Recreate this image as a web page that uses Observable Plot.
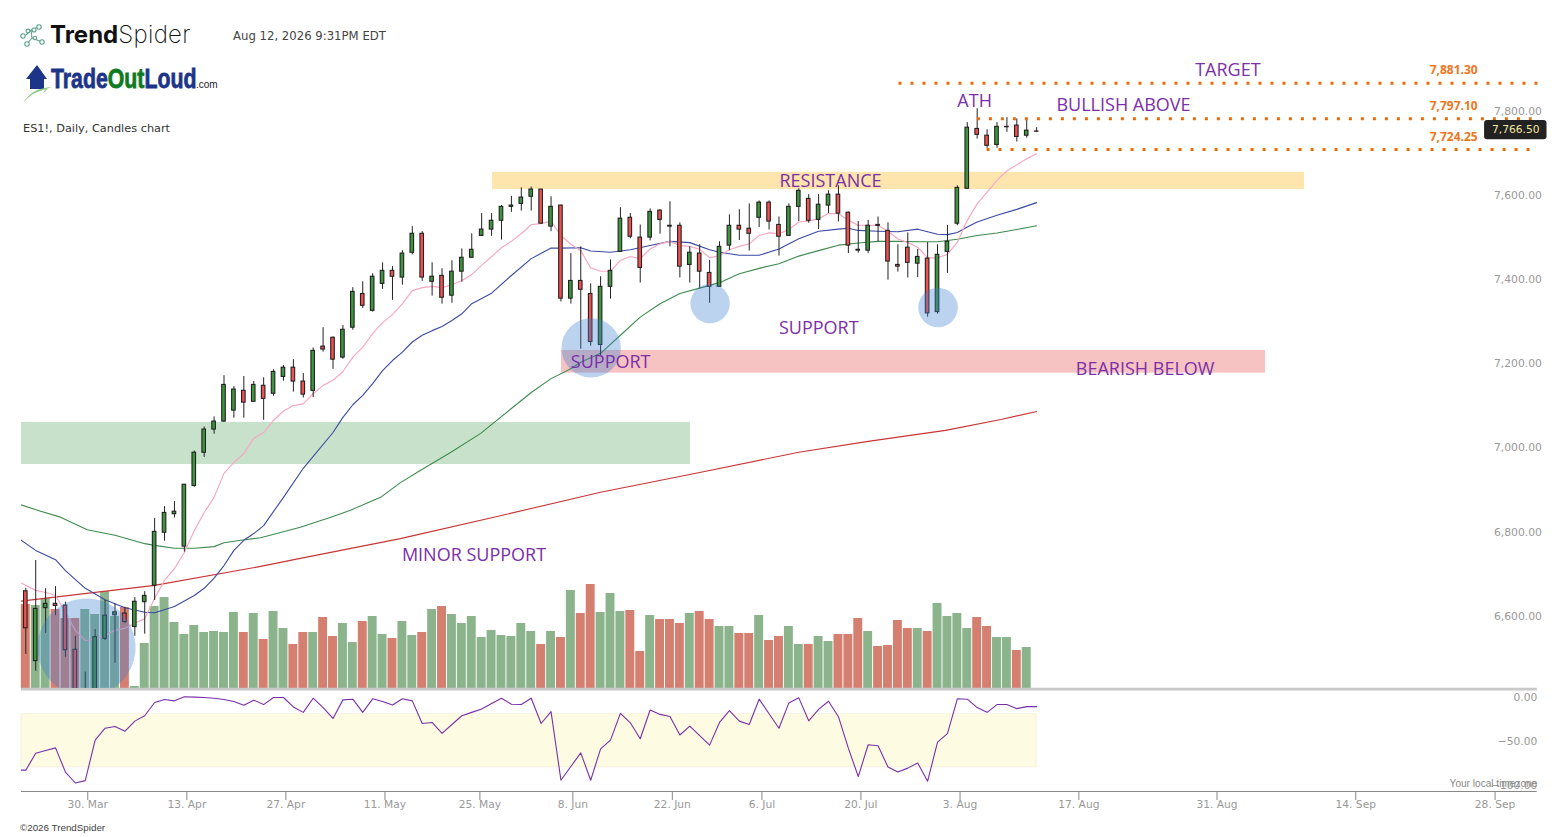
<!DOCTYPE html>
<html>
<head>
<meta charset="utf-8">
<script src="https://cdn.jsdelivr.net/npm/d3@7"></script>
<script src="https://cdn.jsdelivr.net/npm/@observablehq/plot@0.6"></script>
<style>
html,body{margin:0;padding:0;background:#fff;overflow:hidden;width:1567px;height:837px}
#stage{position:relative;width:1567px;height:837px}
#stage svg.plot-layer{position:absolute;left:0;top:0}
.hdr{position:absolute;white-space:nowrap}
</style>
</head>
<body>
<div id="stage">
  <svg style="position:absolute;left:19px;top:24px" width="28" height="24" viewBox="0 0 28 24" fill="none" stroke="#5aa08c" stroke-width="1.1">
    <path d="M7 11 L12 6 M12 6 L13 14 M13 14 L8 20 M13 14 L23 18 M12 6 L19 3"/>
    <circle cx="4" cy="12" r="2.2" fill="#fff"/><circle cx="8" cy="20" r="2.2" fill="#fff"/><circle cx="9" cy="7" r="1.9" fill="#fff"/>
    <circle cx="15" cy="6" r="2" fill="#fff"/><circle cx="20" cy="3" r="2.2" fill="#fff"/><circle cx="16" cy="14" r="1.7" fill="#fff"/><circle cx="23" cy="18" r="2.2" fill="#fff"/>
  </svg>
  <div class="hdr" style="left:50px;top:20px;font:24px/30px Inter,sans-serif;color:#111"><b style="font-weight:700">Trend</b><span style="font-weight:200;letter-spacing:.3px">Spider</span></div>
  <div class="hdr" style="left:233px;top:28px;font:11.7px/16px 'DejaVu Sans',sans-serif;color:#444">Aug 12, 2026 9:31PM EDT</div>
  <svg style="position:absolute;left:22px;top:64px" width="32" height="40" viewBox="0 0 32 40">
    <path d="M15 1 L25 15 L22 15 L22 25 L8 25 L8 15 L4 15 Z" fill="#1d3588"/>
    <path d="M1 39 C8 28 16 24 30 23 L24 25 L20 30 L26 25 C14 27 8 31 1 39Z" fill="#8cc97e"/>
  </svg>
  <div class="hdr" style="left:51px;top:63px;font:bold 28px/32px 'Liberation Sans',sans-serif;color:#1d3588;-webkit-text-stroke:.8px currentColor;transform:scaleX(.76);transform-origin:left center">Trade<span style="color:#0f7a1f">Out</span>Loud</div>
  <div class="hdr" style="left:196px;top:78px;font:10px/14px 'Liberation Sans',sans-serif;color:#222">.com</div>
  <div class="hdr" style="left:23px;top:121px;font:11.3px/16px 'DejaVu Sans',sans-serif;color:#333">ES1!, Daily, Candles chart</div>
  <div class="hdr" style="left:20px;top:821px;font:9.8px/13px 'Liberation Sans',sans-serif;color:#444">©2026 TrendSpider</div>
</div>
<script>
// ---------- data (bars are trading-day positions) ----------
const opens = [6675,6509,6635,6645,6641,6536,6368,6427,6562,6618,
  6622,6590,6649,6688,6814,6858,6781,6925,7004,7059,
  7078,7104,7151,7125,7163,7144,7184,7206,7173,7151,
  7256,7277,7230,7301,7381,7341,7405,7436,7420,7479,
  7524,7410,7424,7377,7434,7467,7519,7534,7555,7588,
  7595,7612,7629,7541,7591,7370,7412,7381,7260,7398,
  7481,7562,7515,7515,7579,7543,7543,7450,7477,7431,
  7398,7496,7543,7536,7562,7598,7545,7519,7588,7607,
  7557,7591,7617,7574,7486,7484,7545,7531,7450,7491,
  7453,7465,7338,7481,7548,7631,7773,7757,7735,7777,
  7781,7757,7767];
const highs = [6682,6748,6681,6686,6649,6568,6483,6584,6653,6645,
  6637,6660,6674,6848,6876,6888,6928,7008,7065,7089,
  7187,7161,7185,7173,7182,7201,7211,7225,7192,7253,
  7301,7279,7306,7396,7410,7429,7455,7446,7484,7541,
  7529,7455,7441,7460,7488,7524,7572,7572,7591,7613,
  7633,7635,7629,7612,7592,7477,7493,7405,7422,7462,
  7586,7572,7545,7583,7581,7600,7550,7493,7498,7461,
  7505,7569,7581,7595,7602,7602,7564,7595,7631,7617,
  7617,7626,7638,7576,7553,7556,7564,7550,7498,7526,
  7487,7503,7498,7544,7638,7788,7821,7771,7788,7800,
  7797,7793,7776];
const lows = [6525,6485,6575,6617,6518,6416,6344,6416,6558,6504,
  6598,6568,6573,6653,6794,6849,6768,6922,6993,7048,
  7076,7086,7086,7124,7081,7138,7174,7148,7134,7135,
  7243,7202,7226,7295,7347,7338,7392,7366,7402,7474,
  7411,7376,7357,7359,7409,7466,7518,7518,7509,7575,
  7578,7578,7547,7529,7362,7357,7250,7257,7234,7369,
  7480,7512,7407,7507,7523,7493,7419,7407,7393,7359,
  7397,7484,7508,7483,7539,7533,7471,7518,7553,7549,
  7534,7572,7552,7477,7478,7477,7505,7414,7433,7419,
  7420,7326,7333,7430,7543,7630,7749,7727,7727,7765,
  7742,7751,7765];
const closes = [6587,6633,6645,6640,6535,6427,6416,6566,6617,6625,
  6602,6650,6664,6816,6861,6864,6928,7004,7059,7078,
  7165,7154,7123,7165,7132,7196,7206,7173,7142,7246,
  7249,7225,7296,7386,7353,7422,7436,7422,7477,7524,
  7420,7422,7372,7434,7467,7486,7534,7555,7588,7591,
  7610,7629,7548,7588,7370,7412,7391,7267,7398,7436,
  7560,7517,7443,7576,7557,7541,7446,7479,7434,7398,
  7493,7543,7534,7524,7598,7553,7517,7588,7626,7555,
  7593,7617,7572,7496,7484,7543,7543,7458,7446,7455,
  7469,7335,7474,7505,7633,7776,7759,7733,7778,7778,
  7754,7769,7766.5];
const volumes = [84,83,90,79,70,70,79,74,97,72,
  81,2,45,82,91,66,54,63,56,57,
  56,76,56,75,49,77,60,44,56,56,
  71,52,65,46,67,72,54,50,67,53,
  56,79,82,74,65,72,51,58,53,52,
  65,57,44,57,51,98,75,104,76,95,
  77,78,37,73,69,69,65,75,77,69,
  62,62,55,55,73,48,52,62,44,44,
  52,47,54,54,70,57,42,43,68,60,
  60,57,85,72,75,60,71,62,51,51,
  38,41];
// fast average: one value per bar, first value belongs to the bar before the first candle
const pinkValues = [6701,6689,6677,6672,6665,6625,6582,6558,6561,6570,6582,
  6587,6599,6610,6658,6701,6729,6767,6819,6862,6898,
  6955,6981,7002,7038,7052,7081,7103,7116,7120,7144,
  7164,7176,7197,7231,7255,7287,7313,7332,7358,7389,
  7396,7399,7396,7403,7413,7427,7449,7470,7491,7506,
  7524,7546,7548,7554,7520,7499,7484,7443,7435,7435,
  7461,7470,7465,7488,7500,7506,7496,7494,7487,7467,
  7472,7486,7494,7500,7520,7526,7524,7534,7552,7554,
  7560,7572,7572,7556,7544,7544,7544,7530,7512,7503,
  7492,7467,7467,7475,7504,7556,7595,7623,7651,7673,
  7688,7702,7714];
const blueBars = [-1,1,3,4,6,8,10,12,13,15,17,18,19,20,21,22,23,24,26,28,31,32,33,34,35,36,37,38,39,40,41,42,43,44,45,47,49,51,53,54,56,57,59,61,63,65,67,69,70,72,74,76,78,80,82,83,84,86,88,90,92,93,94,95,96,98,100,102];
const blueValues = [6805,6772,6750,6724,6682,6655,6636,6625,6624,6639,6665,6682,6706,6736,6772,6796,6812,6831,6898,6967,7052,7088,7118,7140,7168,7199,7223,7243,7267,7283,7294,7304,7318,7334,7358,7383,7425,7465,7490,7490,7491,7483,7480,7486,7496,7506,7503,7486,7480,7473,7473,7488,7512,7530,7535,7537,7532,7530,7529,7535,7523,7522,7527,7540,7552,7568,7582,7598];
const greenBars = [-1,1.5,3.5,6.2,9,12,13,15,17,19,20,21.7,23.7,27.7,30.7,32.7,35.8,37.8,39.8,42.9,45.9,47.9,51,53,54.8,56,58,60,62,64,66,68,70,72,74.2,76,78,80,82,84,86,88,90,92,93,94,96,98,100,102];
const greenValues = [6884,6865,6851,6821,6808,6788,6784,6777,6777,6781,6790,6796,6802,6827,6850,6867,6898,6933,6962,7005,7050,7088,7147,7180,7201,7219,7240,7283,7326,7358,7382,7395,7408,7429,7443,7453,7471,7484,7497,7502,7506,7506,7505,7505,7508,7511,7520,7526,7534,7543];
const redBars = [-1,13,23.7,27.7,37.8,48,58,68,78,85,92.8,98.4,102];
const redValues = [6650,6689,6734,6753,6800,6855,6910,6957,7005,7031,7057,7083,7102];
// oscillator: one value per bar, first value belongs to the bar before the first candle
const oscValues = [-83,-83.1,-64,-60.9,-57.9,-85.3,-97.6,-94.9,-49.1,-35.7,-33.8,
  -39.2,-27.7,-21.6,-6.7,-3.3,-4.8,-0.2,-0.6,-1,-1.8,
  -3.3,-5.6,-9.8,-4,-9,-1,-1,-11.7,-17.8,-1.8,
  -12.4,-24.7,-3.7,-2.9,-17.8,-2.5,-5.6,-9.4,-2.5,-4.8,
  -30.4,-29.2,-41.5,-31.5,-21.6,-17.8,-14,-7.9,-1.8,-8.6,
  -9,-1.8,-30.4,-17,-94.5,-78.9,-63.6,-94.5,-59,-49.1,
  -18.9,-29.6,-47.6,-15.1,-20.1,-22.4,-43.4,-33.4,-44.1,-54.8,
  -29.2,-15.9,-27.7,-31.5,-2.9,-19.3,-35.7,-7.1,-1.4,-27.3,
  -14.4,-5.2,-22.7,-58.2,-90.3,-54.4,-55.6,-79.6,-85.3,-80.8,
  -75,-95.6,-51.4,-41.8,-2.5,-2.9,-12.4,-17.8,-9,-9,
  -13.6,-11.3,-11.3];
const xTickBars = [6.25,16.25,26.24,36.24,45.82,55.2,65.24,74.28,84.27,94.27,106.26,120.2,134.2,148.26];
const xTickLabels = ["30. Mar","13. Apr","27. Apr","11. May","25. May","8. Jun","22. Jun","6. Jul","20. Jul","3. Aug","17. Aug","31. Aug","14. Sep","28. Sep"];
const priceTicks = [7800,7600,7400,7200,7000,6800,6600];
const oscTicks = [0,-50,-100];
// zones: bar from, bar to, price low, price high
const zoneNames = ["resistance","bearish","green"];
const zoneFrom = [47.1,54.06,-0.434];
const zoneTo = [129.03,125.1,67.07];
const zoneLow = [7629,7193,6976];
const zoneHigh = [7670,7247,7076];
const zoneFills = ["#fde5ad","#f6c2c2","#c8e1cb"];
// price levels
const levelPrices = [7881.30,7797.10,7724.25];
const levelFrom = [88.11,96.02,97.0];
const levelTo = [152.6,152.0,151.8];
const labelText = ["TARGET","ATH","BULLISH ABOVE","RESISTANCE","SUPPORT","SUPPORT","MINOR SUPPORT","BEARISH BELOW"];
const labelBars = [118.0,94,104,76.05,55,76.0,37.95,105.95];
const labelPrices = [7912,7838,7829,7648,7218,7299,6760,7202];
const circleBars = [6.125,57.05,69.05,92.05];
const circlePrices = [6541.5,7253,7358.5,7349];
const circleRadii = [49,29.7,19.7,19.8];

// ---------- shared layout ----------
const W = 1567, H = 837;
const xScale = {domain:[-0.434,152.52]};
const mL = 21, mR = 30.2;
const family = "'DejaVu Sans',sans-serif";
const baseStyle = {background:"transparent",overflow:"visible",fontFamily:family};
const bars = opens.map((o,i)=>({i,o,h:highs[i],l:lows[i],c:closes[i],v:volumes[i],up:closes[i]>=opens[i]}));
const idx = d=>d.i;
const pts = (xs,ys)=>xs.map((x,k)=>({x,y:ys[k]}));
const seq = ys=>ys.map((y,k)=>({x:k-1,y}));
const fmt2 = d3.format(",.2f");
const tickLabel = new Map(xTickBars.map((b,k)=>[b,xTickLabels[k]]));
const UP="#3d963d",DOWN="#f05050",INK="#222";

// ---------- volume layer ----------
const volPlot = Plot.plot({
  width:W,height:H,marginLeft:mL,marginRight:mR,marginTop:578,marginBottom:149,
  x:{...xScale,axis:null},y:{domain:[0,110],axis:null},style:baseStyle,
  marks:[
    Plot.rectY(bars.filter(d=>d.v!=null),{x1:d=>d.i-0.45,x2:d=>d.i+0.45,y:"v",fill:d=>d.up?"#8bb38c":"#d47f70"}),
    Plot.ruleY([0],{stroke:"#c8c8c8",strokeWidth:2.8,dy:0.7})
  ]
});

// ---------- price layer ----------
const zones = zoneNames.map((n,k)=>({n,x1:zoneFrom[k],x2:zoneTo[k],y1:zoneLow[k],y2:zoneHigh[k],fill:zoneFills[k]}));
const levels = levelPrices.map((y,k)=>({y,x1:levelFrom[k],x2:levelTo[k]}));
const annots = labelText.map((t,k)=>({t,x:labelBars[k],y:labelPrices[k]}));
const circles = circleBars.map((x,k)=>({x,y:circlePrices[k],r:circleRadii[k]}));
const lastBar = bars[bars.length-1];
const pricePlot = Plot.plot({
  width:W,height:H,marginLeft:mL,marginRight:mR,marginTop:0,marginBottom:149,
  x:{...xScale,axis:null},y:{domain:[6444,8078.1],axis:null},r:{type:"identity"},style:baseStyle,
  marks:[
    Plot.rect(zones,{x1:"x1",x2:"x2",y1:"y1",y2:"y2",fill:"fill"}),
    Plot.axisY(priceTicks,{anchor:"right",tickSize:0,tickPadding:0,textAnchor:"end",dx:4.7,dy:-6.5,fontSize:10.8,fill:"#999",tickFormat:fmt2,label:null}),
    Plot.line(pts(redBars,redValues),{x:"x",y:"y",stroke:"#c93434",strokeWidth:1.1,clip:"frame"}),
    Plot.line(pts(greenBars,greenValues),{x:"x",y:"y",stroke:"#3f8a4e",strokeWidth:1.1,clip:"frame"}),
    Plot.line(pts(blueBars,blueValues),{x:"x",y:"y",stroke:"#3a4aa3",strokeWidth:1.1,clip:"frame"}),
    Plot.line(seq(pinkValues),{x:"x",y:"y",stroke:"#f6a9c2",strokeWidth:1.2,clip:"frame"}),
    Plot.ruleX(bars,{x:idx,y1:"l",y2:"h",stroke:INK,strokeWidth:1,clip:"frame"}),
    Plot.rect(bars,{x1:d=>d.i-0.18,x2:d=>d.i+0.18,y1:"o",y2:"c",fill:d=>d.up?UP:DOWN,stroke:INK,strokeWidth:1.1,clip:"frame"}),
    Plot.dot(circles,{x:"x",y:"y",r:"r",fill:"#3c82d2",fillOpacity:0.35,stroke:null,clip:"frame"}),
    Plot.ruleY(levels,{y:"y",x1:"x1",x2:"x2",stroke:"#e96c0c",strokeWidth:3,strokeDasharray:"3 9"}),
    Plot.text(levelPrices,{x:146.5,y:d=>d,text:fmt2,textAnchor:"end",dy:-12.8,fill:"#f0761c",fontSize:12,fontWeight:700,fontFamily:"'Open Sans',sans-serif"}),
    Plot.text(annots,{x:"x",y:"y",text:"t",textAnchor:"start",fill:"#7b2fa8",fontSize:18,fontFamily:"'Open Sans',sans-serif"}),
    Plot.rect([lastBar],{x1:()=>147.2,x2:()=>153.5,y1:()=>7747.3,y2:()=>7793,fill:"#222",rx:3}),
    Plot.text([lastBar],{x:150.35,y:"c",text:d=>fmt2(d.c),dy:-2.5,fill:"#f5e6a0",fontSize:10.7})
  ]
});

// ---------- oscillator layer ----------
const oscPlot = Plot.plot({
  width:W,height:H,marginLeft:mL,marginRight:mR,marginTop:690,marginBottom:46,
  x:{...xScale,axis:null},y:{domain:[-107.2,6.9],axis:null},style:baseStyle,
  marks:[
    Plot.rectY([{x1:-0.434,x2:102,y1:-80,y2:-20}],{x1:"x1",x2:"x2",y1:"y1",y2:"y2",fill:"#fefbe3",stroke:"#efe9d8",strokeWidth:0.6}),
    Plot.line(seq(oscValues),{x:"x",y:"y",stroke:"#7a2fa8",strokeWidth:1.1,clip:"frame"}),
    Plot.axisY(oscTicks,{anchor:"right",tickSize:0,tickPadding:0,textAnchor:"end",fontSize:10.7,fill:"#999",dy:0.8,tickFormat:fmt2,label:null}),
    Plot.ruleY([-107.2],{stroke:"#888",strokeWidth:1}),
    Plot.axisX(xTickBars,{anchor:"bottom",tickSize:9,tickPadding:0,color:"#999",stroke:"#888",fontSize:10.7,tickFormat:d=>tickLabel.get(d),label:null}),
    Plot.text(["Your local timezone"],{frameAnchor:"bottom-right",textAnchor:"end",dy:-5,fill:"#888",fontSize:10.1,fontFamily:"'Liberation Sans',sans-serif"})
  ]
});

const stage = document.getElementById("stage");
for (const p of [volPlot,pricePlot,oscPlot]) { p.classList.add("plot-layer"); stage.appendChild(p); }
</script>
</body>
</html>
